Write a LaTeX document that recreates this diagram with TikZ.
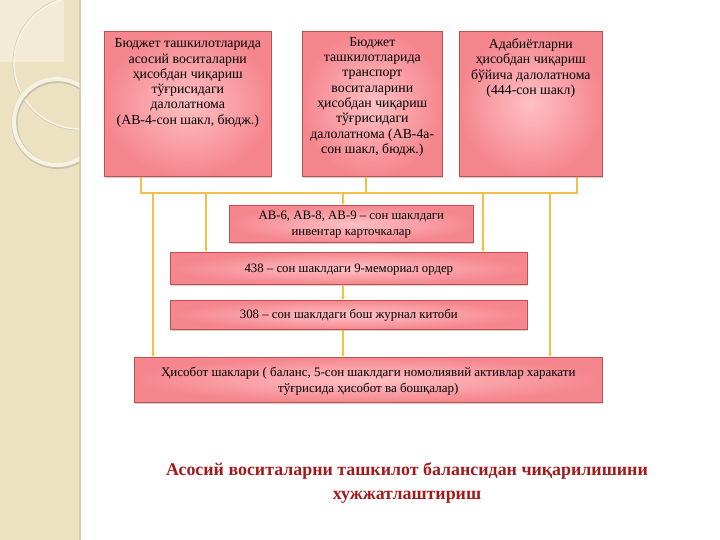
\documentclass[tikz,border=0pt]{standalone}
\usepackage{fontspec}
\setmainfont{Liberation Serif}
\usetikzlibrary{arrows.meta,shadows}
\definecolor{strip}{HTML}{ECE2C2}
\definecolor{stripedge}{HTML}{D6CBA6}
\definecolor{striplight}{HTML}{F2ECD6}
\definecolor{boxin}{HTML}{FFC0C4}
\definecolor{boxout}{HTML}{F5868E}
\definecolor{boxline}{HTML}{C0504D}
\definecolor{conncol}{HTML}{F2C046}
\definecolor{titlecol}{HTML}{A31A1C}
\tikzset{
  box/.style={draw=boxline, line width=0.6pt, shading=radial, inner color=boxin, outer color=boxout,
    drop shadow={shadow xshift=0.8pt, shadow yshift=-1.8pt, opacity=0.35}, anchor=north west, inner sep=0pt},
  boxtext/.style={align=center, font=\fontsize{13.8}{15.3}\selectfont, inner sep=0pt, anchor=north},
  midtext/.style={align=center, font=\fontsize{12.8}{16}\selectfont, inner sep=0pt, anchor=center},
  conn/.style={draw=conncol, line width=1.1pt},
  arr/.style={conn, -{Stealth[length=4pt,width=3.5pt]}},
}
\begin{document}
\begin{tikzpicture}[x=1pt,y=-1pt]
\useasboundingbox (0,0) rectangle (720,540);
% left decorative strip
\fill[strip] (0,0) rectangle (80,540);
\fill[striplight] (0,0) rectangle (64,62);
\draw[stripedge, line width=1.2pt] (80,0) -- (80,540);
\begin{scope}
\clip (0,0) rectangle (79.4,540);
\draw[white!60!strip, line width=1.4pt] (80,63) circle[radius=66];
\draw[black!10!strip, line width=0.5pt] (80,63) circle[radius=67.2];
\draw[black!14!strip, line width=6pt] (57.5,123) circle[radius=43];
\draw[white!55!strip, line width=4.2pt] (57,122) circle[radius=43];
\end{scope}
% top boxes
\node[box, minimum width=167, minimum height=145] (b1) at (104,31) {};
\node[box, minimum width=140, minimum height=145] (b2) at (302,31) {};
\node[box, minimum width=143, minimum height=145] (b3) at (459,31) {};
\node[boxtext] (t1) at ([yshift=-7.5]b1.north) {Бюджет ташкилотларида\\асосий воситаларни\\ҳисобдан чиқариш\\тўғрисидаги\\далолатнома\\(АВ-4-сон шакл, бюдж.)};
\node[boxtext] (t2) at ([yshift=-6]b2.north) {Бюджет\\ташкилотларида\\транспорт\\воситаларини\\ҳисобдан чиқариш\\тўғрисидаги\\далолатнома (АВ-4а-\\сон шакл, бюдж.)};
\node[boxtext] (t3) at ([yshift=-7.5]b3.north) {Адабиётларни\\ҳисобдан чиқариш\\бўйича далолатнома\\(444-сон шакл)};
% middle boxes
\node[box, minimum width=244, minimum height=37] (ab) at (229,205) {};
\node[midtext] (tab) at ([yshift=-1]ab.center) {АВ-6, АВ-8, АВ-9 -- сон шаклдаги\\инвентар карточкалар};
\node[box, minimum width=357, minimum height=32] (m438) at (170,252) {};
\node[midtext] (t438) at ([yshift=-1]m438.center) {438 -- сон шаклдаги 9-мемориал ордер};
\node[box, minimum width=357, minimum height=29] (m308) at (170,300) {};
\node[midtext] (t308) at (m308.center) {308 -- сон шаклдаги бош журнал китоби};
\node[box, minimum width=468, minimum height=45] (rep) at (134,357) {};
\node[midtext, font=\fontsize{13}{16}\selectfont] (trep) at ([yshift=-1]rep.center) {Ҳисобот шаклари ( баланс, 5-сон шаклдаги номолиявий активлар харакати\\тўғрисида ҳисобот ва бошқалар)};
% connectors
\coordinate (jl) at (141,193);
\coordinate (jm) at (366,193);
\coordinate (jr) at (577,193);
\draw[conn] (b1.south -| jl) -- (jl) -- (jr) -- (b3.south -| jr);
\draw[conn] (b2.south -| jm) -- (jm);
\coordinate (d1) at (153,193);
\coordinate (d2) at (206,193);
\coordinate (d3) at (343,193);
\coordinate (d4) at (483,193);
\coordinate (d5) at (550,193);
\draw[arr] (d1) -- (rep.north -| d1);
\draw[arr] (d2) -- (m438.north -| d2);
\draw[arr] (d3) -- (ab.north -| d3);
\draw[arr] (d4) -- (m438.north -| d4);
\draw[arr] (d5) -- (rep.north -| d5);
\draw[arr] (m438.south -| d3) -- (m308.north -| d3);
\draw[arr] (m308.south -| d3) -- (rep.north -| d3);
% title
\node[align=center, text=titlecol, font=\bfseries\fontsize{17.9}{23.5}\selectfont] (title) at (407,483) {Асосий воситаларни ташкилот балансидан чиқарилишини\\хужжатлаштириш};
\end{tikzpicture}
\end{document}
